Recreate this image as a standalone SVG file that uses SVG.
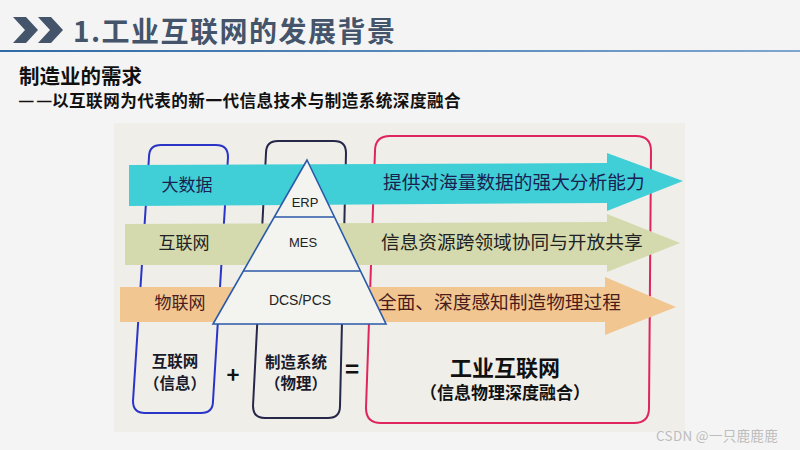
<svg xmlns="http://www.w3.org/2000/svg" width="800" height="450" viewBox="0 0 800 450">
<defs>
<linearGradient id="ul" x1="0" x2="1" y1="0" y2="0">
<stop offset="0" stop-color="#2f6aa6"/><stop offset="1" stop-color="#7ea6cf"/>
</linearGradient>
<style>
.cjk{font-family:"Noto Sans CJK SC","Noto Sans",sans-serif}
.lat{font-family:"Liberation Sans","Noto Sans",sans-serif}
.b{font-weight:bold}
.box{fill:none;stroke-width:2}
.pyr{fill:#f3f3f0;stroke:#2b5aa8;stroke-width:1.6}
.band{font-size:17px}
.desc{font-size:18.7px}
</style>
</defs>
<rect width="800" height="450" fill="#f4f4f4"/>
<g id="title">
<path d="M13,17 L26,17 L38,30 L26,43 L13,43 L25,30 Z" fill="#44546a"/>
<path d="M38,17 L51,17 L63,30 L51,43 L38,43 L50,30 Z" fill="#44546a"/>
<text x="73" y="42" class="cjk b" font-size="28" letter-spacing="1.5" fill="#44546a">1.工业互联网的发展背景</text>
<rect x="0" y="50" width="800" height="2" fill="url(#ul)"/>
</g>
<g id="subtitle">
<text x="19" y="84" class="cjk b" font-size="20.5" fill="#111">制造业的需求</text>
<text x="19" y="106" class="lat b" font-size="14.5" letter-spacing="3.5" fill="#111">——</text>
<text x="52" y="107" class="cjk b" font-size="16.6" letter-spacing="0.45" fill="#111">以互联网为代表的新一代信息技术与制造系统深度融合</text>
</g>
<rect id="photo" x="114" y="123" width="571" height="309" fill="#efeee9"/>
<g id="box-info">
<path class="box" stroke="#2a35c8" d="M149,157 Q149,145 161,145 L216,145 Q228,145 228,157 L213,401 Q213,413 201,413 L145,413 Q133,413 133,401 Z"/>
<text x="175" y="367" class="cjk b" font-size="15.5" fill="#1a1a2a" text-anchor="middle">互联网</text>
<text x="175" y="389" class="cjk b" font-size="15.5" fill="#1a1a2a" text-anchor="middle">（信息）</text>
</g>
<g id="box-phys">
<path class="box" stroke="#26284a" d="M266,153 Q266,141 278,141 L334,141 Q346,141 346,153 L340,406 Q340,418 328,418 L265,418 Q253,418 253,406 Z"/>
<text x="296" y="368" class="cjk b" font-size="15.5" fill="#1a1a2a" text-anchor="middle">制造系统</text>
<text x="296" y="389" class="cjk b" font-size="15.5" fill="#1a1a2a" text-anchor="middle">（物理）</text>
</g>
<g id="box-iiot">
<path class="box" stroke="#e0245e" d="M375,151 Q375,136 390,136 L636,136 Q651,136 651,151 L649,408 Q649,423 634,423 L381,423 Q366,423 366,408 Z"/>
<text x="505" y="376" class="cjk b" font-size="22" fill="#111" text-anchor="middle">工业互联网</text>
<text x="505" y="399" class="cjk b" font-size="17" fill="#111" text-anchor="middle">（信息物理深度融合）</text>
</g>
<g id="ops" class="cjk b" fill="#111" text-anchor="middle">
<text x="233" y="383" font-size="22">+</text>
<text x="352" y="378" font-size="24">=</text>
</g>
<g id="arrow-bigdata">
<path d="M129,165 L607,163 L607,153 L683,181 L607,211 L607,203 L129,206 Z" fill="#40cfd6"/>
<text x="187" y="191" class="cjk band" fill="#1a2050" text-anchor="middle">大数据</text>
<text x="383" y="189" class="cjk desc" fill="#1a2050">提供对海量数据的强大分析能力</text>
</g>
<g id="arrow-internet">
<path d="M125,224 L607,222 L607,214 L680,243 L607,272 L607,265 L125,265 Z" fill="#d4daad"/>
<text x="184" y="249" class="cjk band" fill="#222" text-anchor="middle">互联网</text>
<text x="381" y="249" class="cjk desc" fill="#222">信息资源跨领域协同与开放共享</text>
</g>
<g id="arrow-iot">
<path d="M120,287 L605,287 L605,277 L676,307 L605,335 L605,322 L120,322 Z" fill="#f2c691"/>
<text x="180" y="309" class="cjk band" fill="#4a1c1c" text-anchor="middle">物联网</text>
<text x="378" y="309" class="cjk desc" fill="#4a1c1c">全面、深度感知制造物理过程</text>
</g>
<g id="pyramid">
<polygon class="pyr" points="307,160 386,324 213,324"/>
<line x1="274" y1="217" x2="334" y2="217" stroke="#2b5aa8" stroke-width="1.6"/>
<line x1="243" y1="271" x2="361" y2="271" stroke="#2b5aa8" stroke-width="1.6"/>
<text x="305" y="207" class="lat" font-size="13" fill="#222" text-anchor="middle">ERP</text>
<text x="303" y="247" class="lat" font-size="13" fill="#222" text-anchor="middle">MES</text>
<text x="300" y="305" class="lat" font-size="14" fill="#222" text-anchor="middle">DCS/PCS</text>
</g>
<g id="connectors"/>
<text x="656" y="441" class="cjk" font-size="13.5" letter-spacing="0.3" fill="#bdbdbd">CSDN @一只鹿鹿鹿</text>
</svg>
